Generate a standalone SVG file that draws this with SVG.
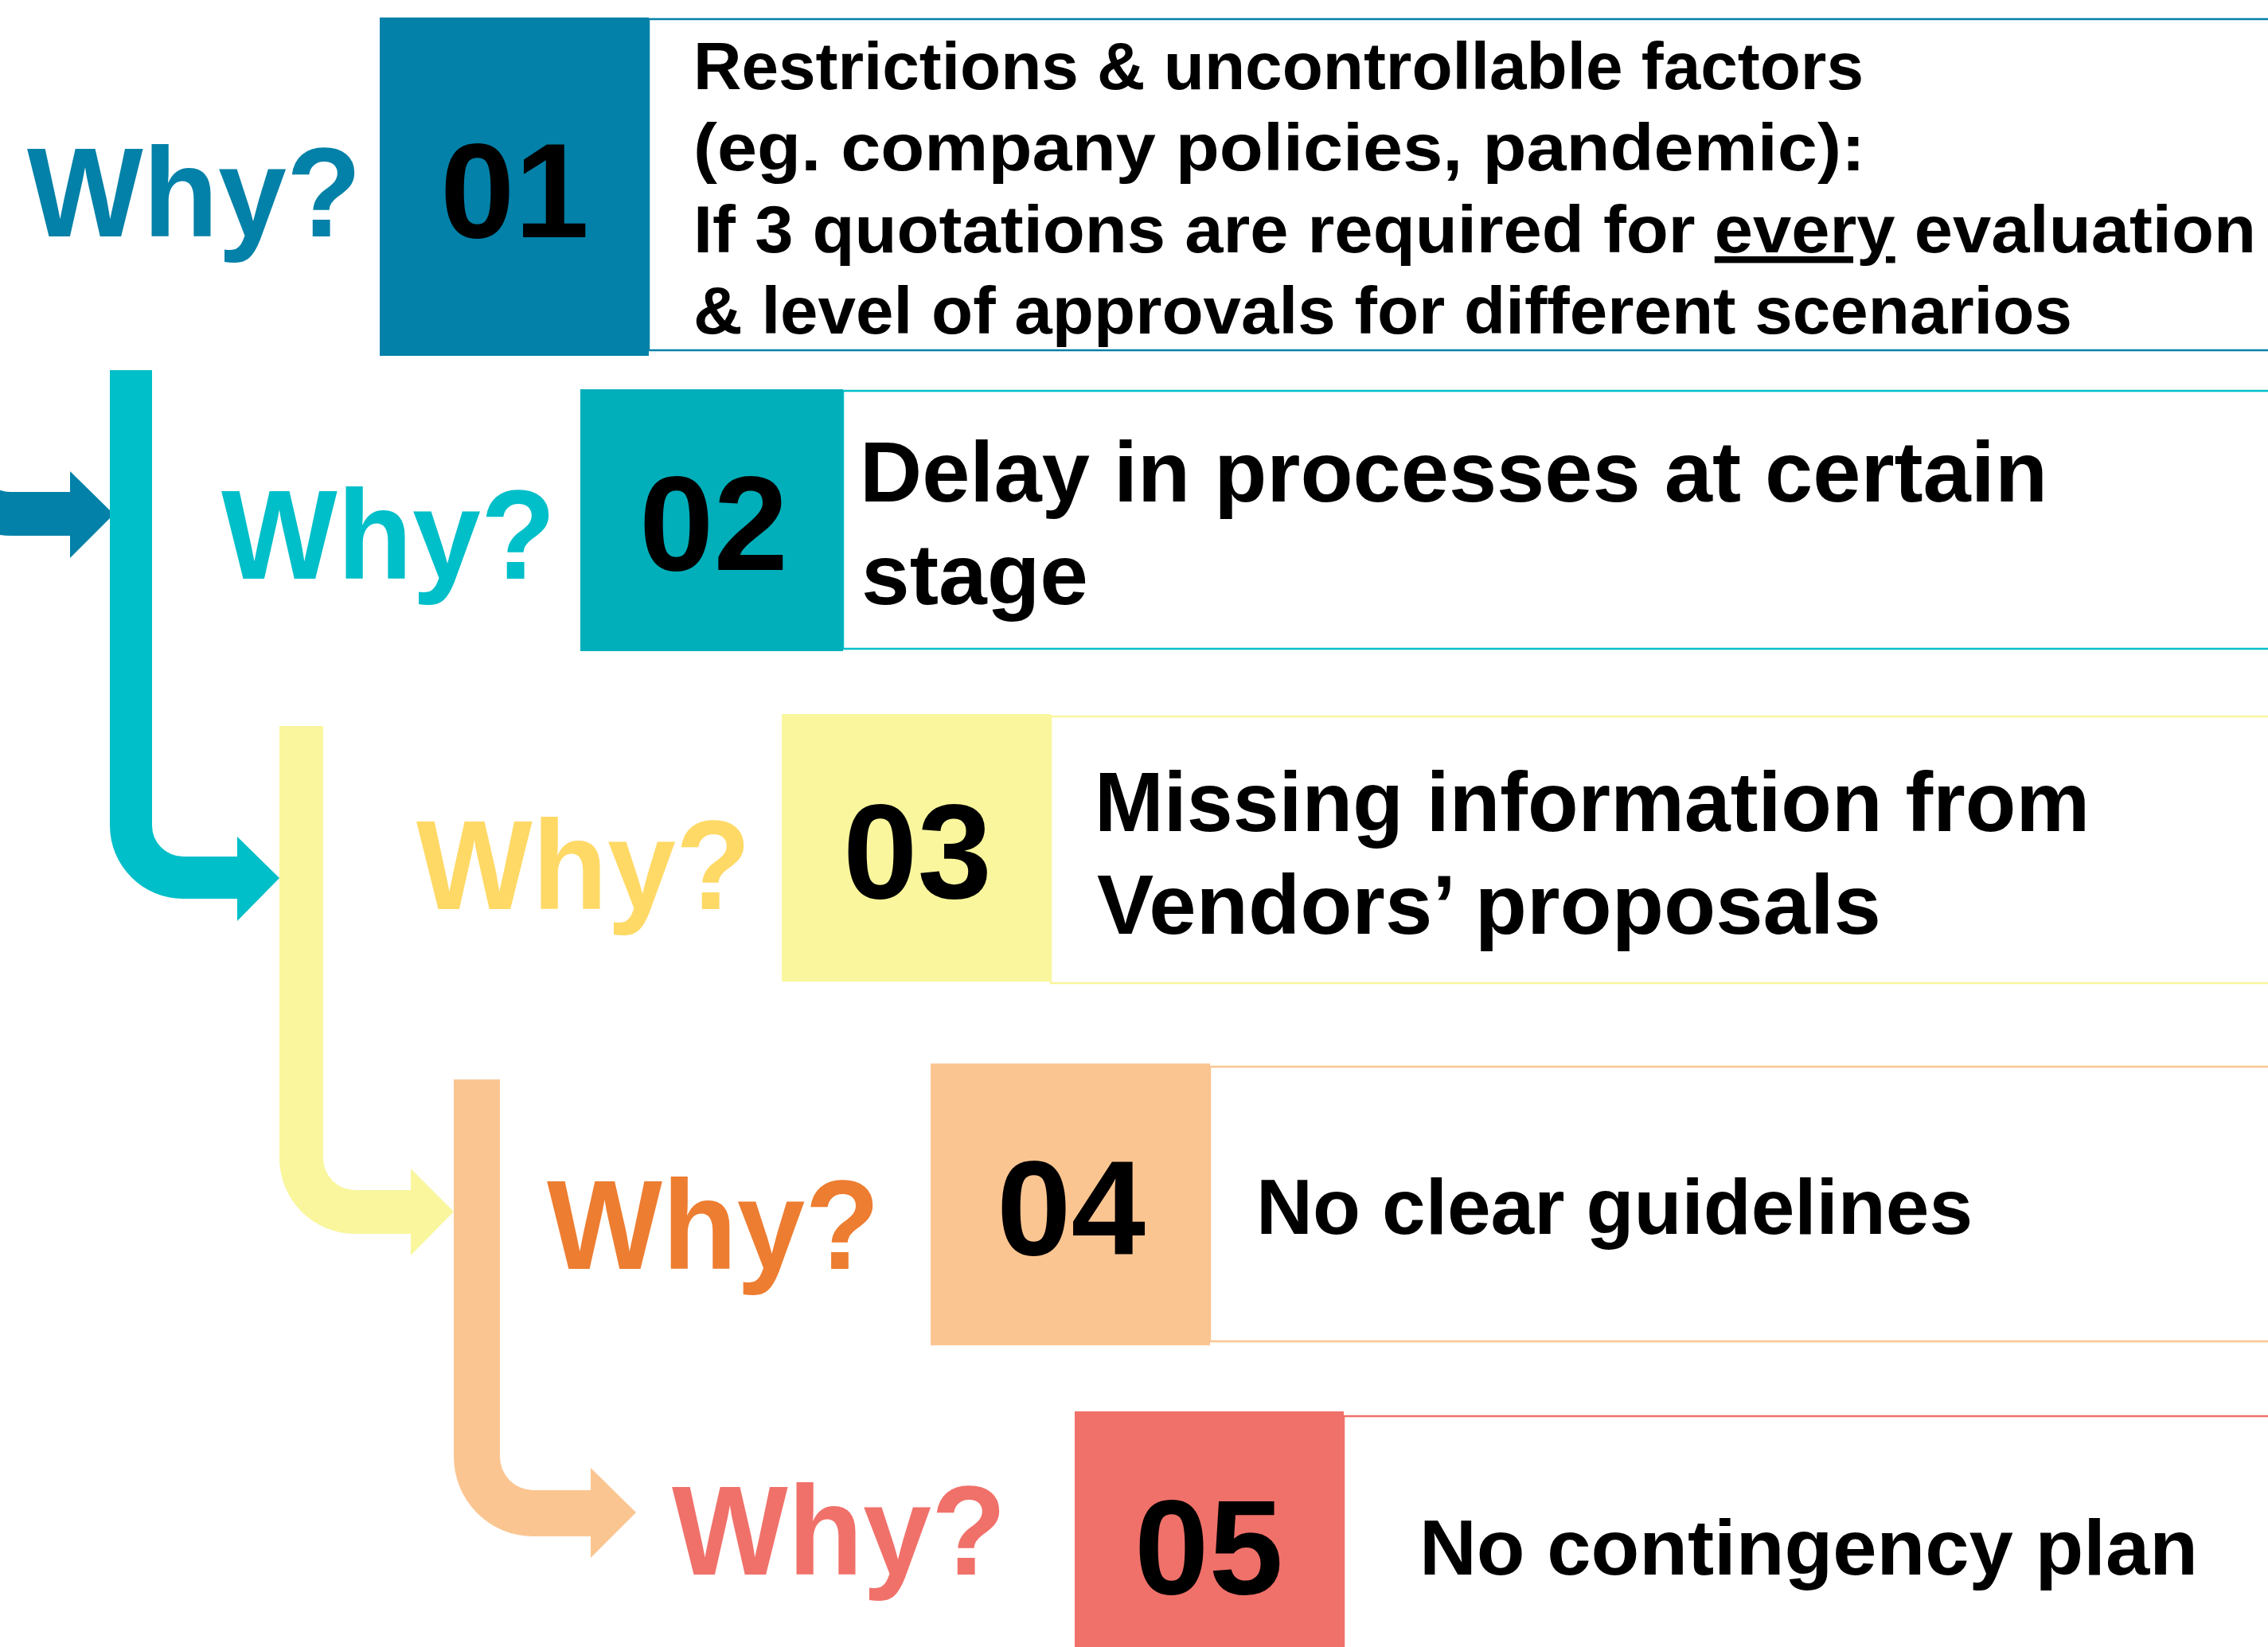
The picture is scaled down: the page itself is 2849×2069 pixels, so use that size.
<svg xmlns="http://www.w3.org/2000/svg" width="2849" height="2069" viewBox="0 0 2849 2069">
<style>
text{font-family:"Liberation Sans",Arial,sans-serif;font-weight:bold;fill:#000}
.why{font-size:160px}
.num{font-size:168px}
.t1{font-size:84px}
.t2{font-size:107px}
.t3{font-size:106px}
.t4{font-size:98px}
.ol{fill:#fff;stroke-width:2.5}
</style>
<rect width="2849" height="2069" fill="#fff"/>
<g id="connectors">
<path fill="#0381A8" d="M-81,0 H-26 V579 A39,39 0 0 0 13,618 H88 V592 L143,646 L88,701 V673 H13 A94,94 0 0 1 -81,579 Z"/>
<path fill="#00BFC9" d="M138,465 H191 V1037 A39,39 0 0 0 230,1076 H298 V1051 L351,1103 L298,1157 V1129 H230 A92,92 0 0 1 138,1037 Z"/>
<path fill="#F9F69D" d="M351,912 H406 V1455 A40,40 0 0 0 446,1495 H516 V1468 L570,1522 L516,1577 V1550 H446 A95,95 0 0 1 351,1455 Z"/>
<path fill="#FBC591" d="M570,1356 H628 V1830 A42,42 0 0 0 670,1872 H742 V1844 L799,1900 L742,1957 V1930 H670 A100,100 0 0 1 570,1830 Z"/>
</g>
<g id="node01">
<rect class="ol" x="815" y="24" width="2100" height="416" stroke="#0381A8"/>
<rect x="477" y="22" width="338" height="425" fill="#0381A8"/>
<text class="why" x="34" y="297" textLength="420" lengthAdjust="spacingAndGlyphs" fill="#0381A8" style="fill:#0381A8">Why?</text>
<text class="num" x="553" y="298">01</text>
<text class="t1" x="871" y="112" textLength="1470" lengthAdjust="spacingAndGlyphs">Restrictions &amp; uncontrollable factors</text>
<text class="t1" x="871" y="214" textLength="1472" lengthAdjust="spacingAndGlyphs">(eg. company policies, pandemic):</text>
<text class="t1" x="871" y="317" textLength="1963" lengthAdjust="spacingAndGlyphs">If 3 quotations are required for <tspan text-decoration="underline">every</tspan> evaluation</text>
<text class="t1" x="871" y="419" textLength="1732" lengthAdjust="spacingAndGlyphs">&amp; level of approvals for different scenarios</text>
</g>
<g id="node02">
<rect class="ol" x="1059" y="491" width="1860" height="324" stroke="#00BFC9"/>
<rect x="729" y="489" width="330" height="329" fill="#00AFBA"/>
<text class="why" x="278" y="727" textLength="420" lengthAdjust="spacingAndGlyphs" style="fill:#00BFC9">Why?</text>
<text class="num" x="803" y="716">02</text>
<text class="t2" x="1080" y="630" textLength="1492" lengthAdjust="spacingAndGlyphs">Delay in processes at certain</text>
<text class="t2" x="1082" y="759" textLength="285" lengthAdjust="spacingAndGlyphs">stage</text>
</g>
<g id="node03">
<rect class="ol" x="1320" y="900" width="1600" height="335" stroke="#F9F69D"/>
<rect x="982" y="897" width="338" height="336" fill="#F9F69D"/>
<text class="why" x="523" y="1142" textLength="420" lengthAdjust="spacingAndGlyphs" style="fill:#FFD966">Why?</text>
<text class="num" x="1059" y="1128">03</text>
<text class="t3" x="1375" y="1044" textLength="1250" lengthAdjust="spacingAndGlyphs">Missing information from</text>
<text class="t3" x="1378" y="1173" textLength="985" lengthAdjust="spacingAndGlyphs">Vendors’ proposals</text>
</g>
<g id="node04">
<rect class="ol" x="1520" y="1340" width="1400" height="345" stroke="#FBC591"/>
<rect x="1169" y="1336" width="351" height="354" fill="#FBC591"/>
<text class="why" x="687" y="1594" textLength="418" lengthAdjust="spacingAndGlyphs" style="fill:#ED7D31">Why?</text>
<text class="num" x="1252" y="1576">04</text>
<text class="t4" x="1578" y="1550" textLength="900" lengthAdjust="spacingAndGlyphs">No clear guidelines</text>
</g>
<g id="node05">
<rect class="ol" x="1688" y="1779" width="1300" height="400" stroke="#F0716A"/>
<rect x="1350" y="1773" width="338" height="310" fill="#F0716A"/>
<text class="why" x="844" y="1978" textLength="420" lengthAdjust="spacingAndGlyphs" style="fill:#F0716A">Why?</text>
<text class="num" x="1425" y="2002">05</text>
<text class="t4" x="1783" y="1978" textLength="978" lengthAdjust="spacingAndGlyphs">No contingency plan</text>
</g>
</svg>
